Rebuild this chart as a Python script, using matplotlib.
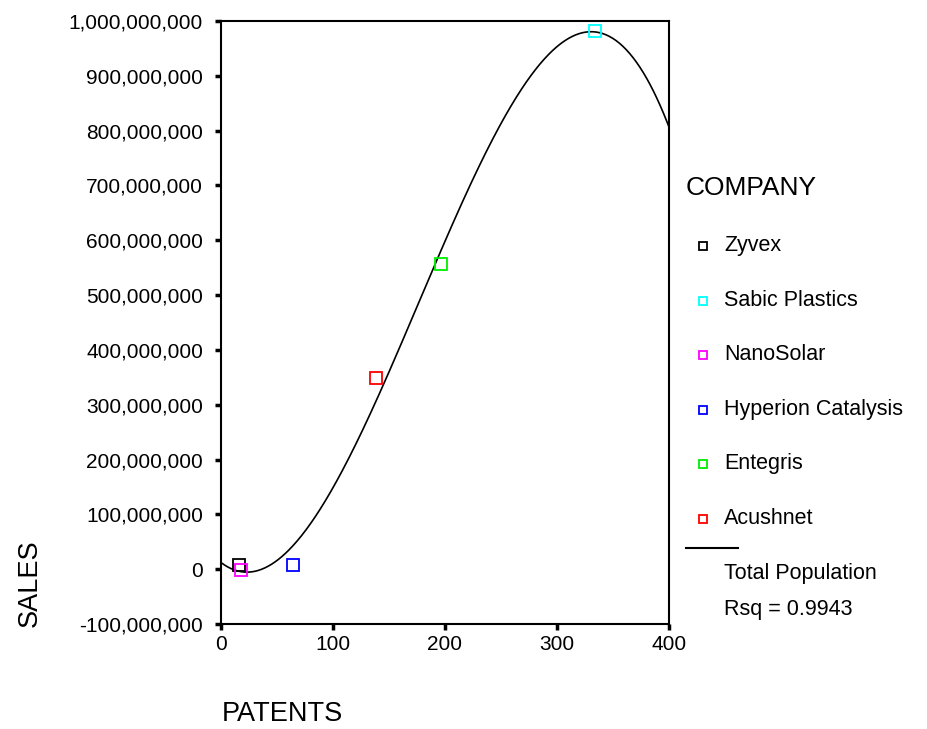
import numpy as np
import matplotlib.pyplot as plt
from matplotlib.lines import Line2D
from matplotlib.ticker import FuncFormatter

plt.rcParams['font.family'] = ['Liberation Sans', 'DejaVu Sans']

# dane
companies = ["Zyvex", "Sabic Plastics", "NanoSolar", "Hyperion Catalysis", "Entegris", "Acushnet"]
patents = [16, 334, 18, 64, 196, 138]
sales = [7e6, 982e6, -2e6, 7e6, 556e6, 348e6]
colors = ["#000000", "#00ffff", "#ff00ff", "#0000ff", "#00ee00", "#ff0000"]
rsq_text = "Rsq = 0.9943"

fig = plt.figure(figsize=(9.28, 7.29), dpi=100)
ax = fig.add_axes([221/928, 1 - 624/729, 448/928, 603/729])

# krzywa regresji (wielomian 3 stopnia)
coeffs = np.polyfit(patents, sales, 3)
x = np.linspace(0, 400, 400)
ax.plot(x, np.polyval(coeffs, x), color="black", lw=1.2)

for p, s, c in zip(patents, sales, colors):
    ax.plot(p, s, "s", mfc="none", mec=c, ms=8, mew=1.3, clip_on=False)

ax.set_xlim(0, 400)
ax.set_ylim(-100e6, 1000e6)
ax.set_xticks(range(0, 401, 100))
ax.set_yticks(np.arange(-100e6, 1000e6 + 1, 100e6))
ax.yaxis.set_major_formatter(FuncFormatter(lambda v, _: f"{int(round(v)):,}"))
ax.tick_params(direction="out", length=4, width=2.5, labelsize=15)
ax.tick_params(axis="y", pad=9)
ax.tick_params(axis="x", pad=4)
for sp in ax.spines.values():
    sp.set_linewidth(1.5)

fig.text(30/928, 1 - 583/729, "SALES", rotation=90, fontsize=19.5, ha="center", va="center")
fig.text(282/928, 1 - 714/729, "PATENTS", fontsize=19.5, ha="center", va="center")

# legenda
fig.text(686/928, 1 - 188/729, "COMPANY", fontsize=19, ha="left", va="center")
for i, (name, c) in enumerate(zip(companies, colors)):
    yy = 1 - (246 + i * 54.5) / 729
    fig.add_artist(Line2D([703/928], [yy], marker="s", mfc="none", mec=c, ms=6, mew=1.3, ls="none"))
    fig.text(724/928, yy, name, fontsize=15.5, ha="left", va="center")
fig.add_artist(Line2D([686/928, 738/928], [1 - 548/729] * 2, color="black", lw=1.5))
fig.text(724/928, 1 - 573/729, "Total Population", fontsize=15.5, ha="left", va="center")
fig.text(724/928, 1 - 610/729, rsq_text, fontsize=15.5, ha="left", va="center")

fig.savefig("out.png", dpi=100)
